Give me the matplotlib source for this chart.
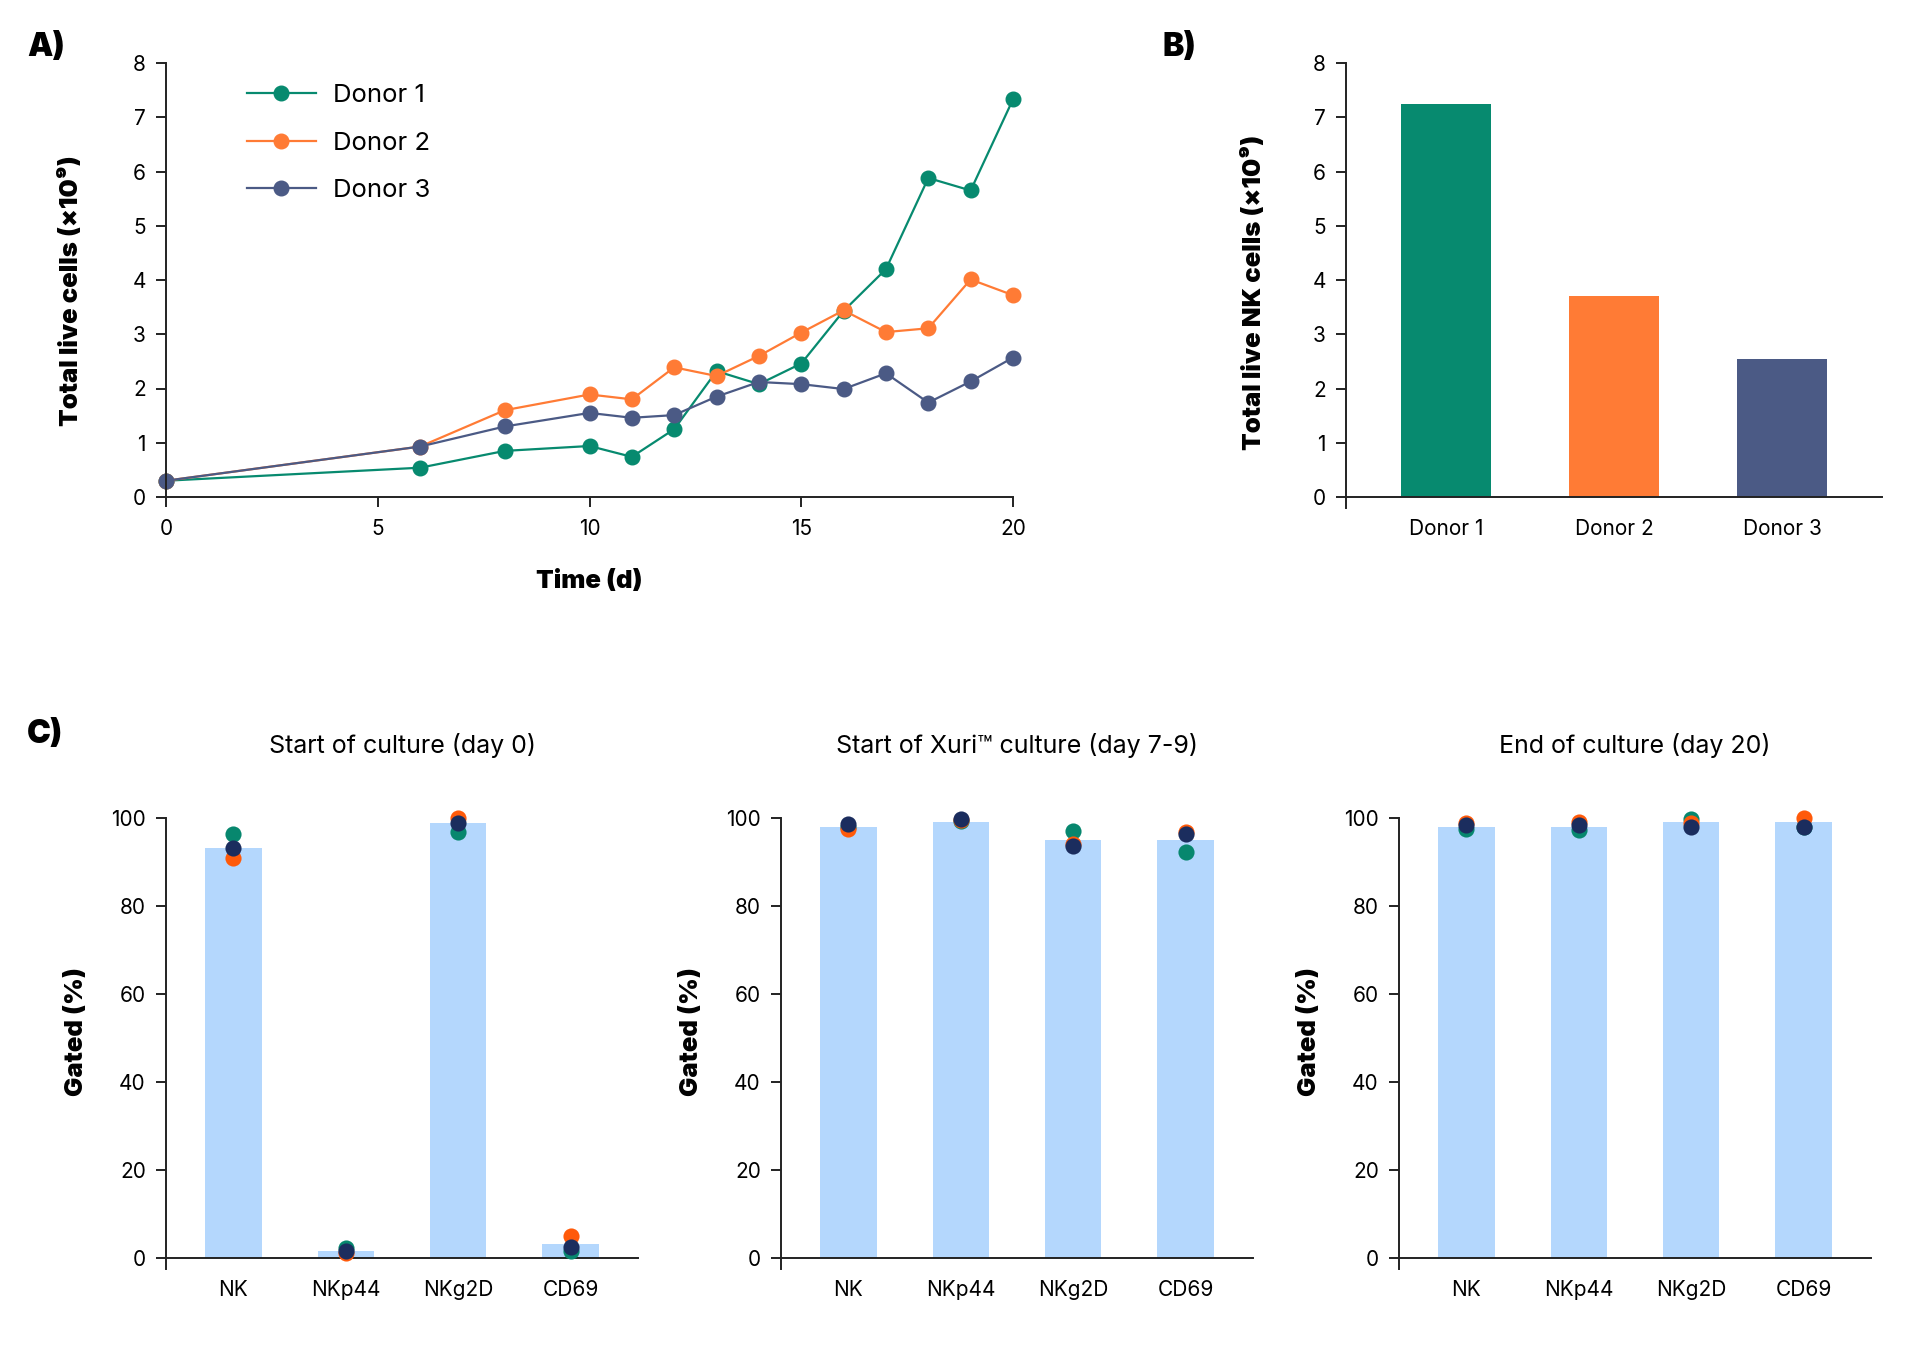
import numpy as np
import matplotlib
matplotlib.use("Agg")
import matplotlib.pyplot as plt

plt.rcParams['font.family'] = ['Inter', 'DejaVu Sans']

# ---- data -------------------------------------------------------------
days = [0, 6, 8, 10, 11, 12, 13, 14, 15, 16, 17, 18, 19, 20]
donor1_live = [0.30, 0.54, 0.85, 0.94, 0.74, 1.25, 2.32, 2.08, 2.46, 3.43, 4.20, 5.88, 5.65, 7.33]
donor2_live = [0.30, 0.93, 1.60, 1.89, 1.80, 2.39, 2.23, 2.60, 3.03, 3.44, 3.04, 3.11, 4.01, 3.72]
donor3_live = [0.30, 0.93, 1.30, 1.55, 1.46, 1.51, 1.85, 2.12, 2.08, 1.99, 2.28, 1.74, 2.13, 2.57]

donors = ["Donor 1", "Donor 2", "Donor 3"]
nk_total = [7.24, 3.70, 2.55]

markers = ["NK", "NKp44", "NKg2D", "CD69"]
c_titles = ["Start of culture (day 0)", "Start of Xuri\u2122 culture (day 7-9)", "End of culture (day 20)"]
# mean bar height per marker for each time point
gated_mean = [
    [93.1, 1.5, 98.9, 3.2],
    [97.9, 99.1, 94.9, 94.9],
    [97.9, 97.9, 99.1, 99.1],
]
# individual donor points (donor 1, donor 2, donor 3)
gated_d1 = [[96.3, 2.2, 96.8, 1.6], [98.0, 99.4, 97.0, 92.2], [97.5, 97.3, 99.8, 98.0]]
gated_d2 = [[90.8, 1.1, 100.0, 4.9], [97.5, 99.5, 94.0, 96.8], [98.9, 99.2, 98.9, 100.0]]
gated_d3 = [[93.1, 1.6, 98.9, 2.5], [98.6, 99.8, 93.7, 96.3], [98.4, 98.4, 97.9, 97.9]]

# ---- style ------------------------------------------------------------
line_cols = ["#078a6f", "#ff7b35", "#4b5a85"]
dot_cols = ["#07876e", "#ff5a0a", "#1b2d5e"]
bar_blue = "#b4d7fd"
axis_col = "#222222"
W, H = 1918, 1352


def fr(x0, y0, x1, y1):
    """pixel box -> figure fraction rect"""
    return [x0 / W, 1 - y1 / H, (x1 - x0) / W, (y1 - y0) / H]


def style_axes(ax):
    for s in ["top", "right"]:
        ax.spines[s].set_visible(False)
    for s in ["left", "bottom"]:
        ax.spines[s].set_linewidth(1.4)
        ax.spines[s].set_color(axis_col)
    ax.tick_params(axis="both", colors=axis_col, width=1.4, length=7.5,
                   labelsize=15, labelcolor="black")
    ax.tick_params(axis="y", pad=7)


fig = plt.figure(figsize=(W / 100, H / 100), dpi=100)
label_font = dict(fontsize=18.5, fontweight="black")

# ---- A) line chart ----------------------------------------------------
axA = fig.add_axes(fr(166, 63, 1013, 497))
for vals, col, name in zip([donor1_live, donor2_live, donor3_live], line_cols, donors):
    axA.plot(days, vals, color=col, lw=1.6, marker="o", ms=10.5, label=name, clip_on=False)
axA.set_xlim(0, 20)
axA.set_ylim(0, 8)
axA.set_xticks([0, 5, 10, 15, 20])
axA.set_yticks(range(0, 9))
style_axes(axA)
axA.tick_params(axis="x", pad=8)
axA.set_ylabel("Total live cells (\u00d710\u2079)", **label_font)
axA.yaxis.set_label_coords(-0.098, 0.475)
axA.set_xlabel("Time (d)", **label_font)
axA.xaxis.set_label_coords(0.5, -0.169)
axA.legend(loc="upper left", bbox_to_anchor=(0.0956, 0.951), frameon=False,
           borderpad=0, borderaxespad=0, fontsize=18.5, handlelength=2.68,
           labelspacing=0.95, handletextpad=0.66)

# ---- B) bar chart -----------------------------------------------------
axB = fig.add_axes(fr(1346, 63, 1882, 508))
xb = np.arange(len(donors))
axB.bar(xb, nk_total, width=0.536, color=line_cols)
axB.set_xlim(-0.595, 2.595)
axB.set_ylim(-0.2, 8)
axB.spines["bottom"].set_position(("data", 0))
axB.set_xticks(xb, donors)
axB.set_yticks(range(0, 9))
style_axes(axB)
axB.tick_params(axis="x", length=0, pad=16)
axB.set_ylabel("Total live NK cells (\u00d710\u2079)", **label_font)
axB.yaxis.set_label_coords(-0.149, 0.484)

# ---- C) phenotype panels ----------------------------------------------
c_boxes = [(166, 818, 638, 1269), (781, 818, 1253, 1269), (1399, 818, 1871, 1269)]
xc = np.arange(len(markers))
for i, box in enumerate(c_boxes):
    ax = fig.add_axes(fr(*box))
    ax.bar(xc, gated_mean[i], width=0.5, color=bar_blue, zorder=1)
    for pts, col in zip([gated_d1[i], gated_d2[i], gated_d3[i]], dot_cols):
        ax.scatter(xc, pts, s=135, color=col, zorder=3, clip_on=False, linewidths=0)
    ax.set_xlim(-0.6, 3.6)
    ax.set_ylim(-2.5, 100)
    ax.spines["bottom"].set_position(("data", 0))
    ax.set_xticks(xc, markers)
    ax.set_yticks(range(0, 101, 20))
    style_axes(ax)
    ax.tick_params(axis="x", length=0, pad=16)
    ax.set_ylabel("Gated (%)", **label_font)
    ax.yaxis.set_label_coords(-0.166, 0.527)
    ax.text(0.5, 1 + 73 / 451, c_titles[i], transform=ax.transAxes,
            fontsize=18, ha="center", va="center")

# ---- panel letters ----------------------------------------------------
for txt, x, y in [("A)", 27, 48), ("B)", 1163, 48), ("C)", 27, 734)]:
    fig.text(x / W, 1 - y / H, txt, fontsize=23, fontweight="black", va="center", ha="left")

fig.savefig("out.png", dpi=100)
